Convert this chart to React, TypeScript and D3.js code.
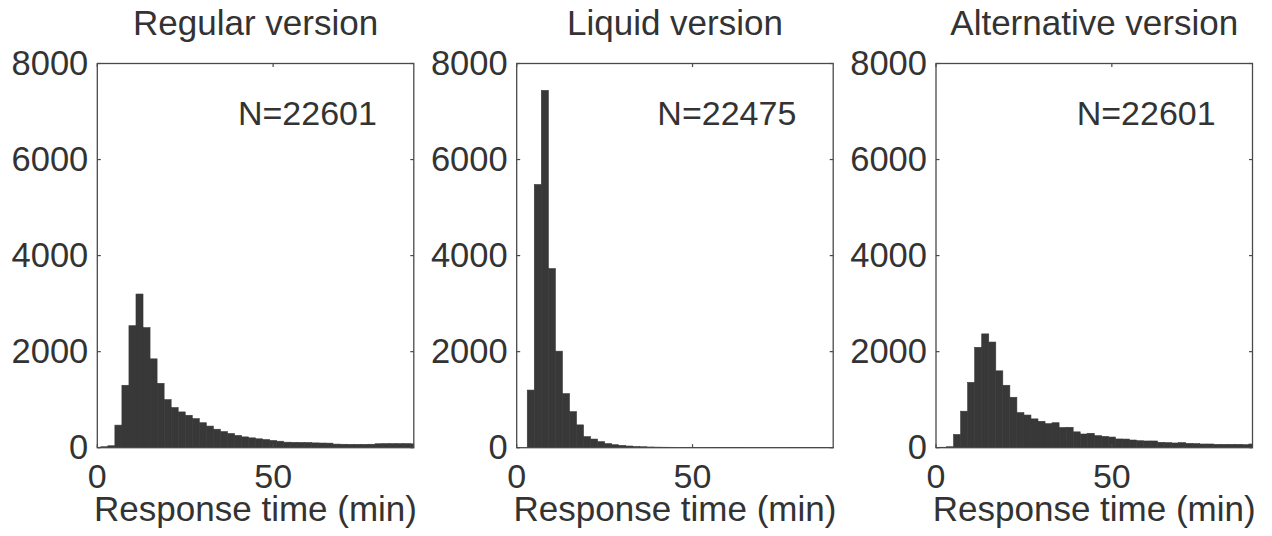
import React from 'react';
import * as d3 from 'd3';

// histogram bins: centers 0,2,...,90 (bin width 2 min)
const binCenters = d3.range(0, 92, 2);

const titles = ['Regular version', 'Liquid version', 'Alternative version'];
const sampleSizes = [22601, 22475, 22601];

const regularCounts = [
  10, 20, 40, 470, 1300, 2540, 3200, 2500, 1850, 1340,
  1000, 835, 745, 675, 605, 520, 450, 385, 335, 295,
  255, 225, 205, 185, 170, 150, 135, 115, 112, 110,
  108, 100, 97, 95, 75, 72, 70, 70, 70, 72,
  82, 85, 85, 85, 85, 80,
];
const liquidCounts = [
  0, 0, 1200, 5480, 7440, 3730, 2010, 1125, 750, 475,
  230, 180, 125, 85, 62, 48, 35, 25, 20, 15,
  12, 10, 9, 8, 7, 6, 5, 5, 4, 4,
  3, 3, 3, 2, 2, 2, 2, 2, 2, 1,
  1, 1, 1, 1, 1, 1,
];
const alternativeCounts = [
  5, 10, 20, 275, 760, 1360, 2090, 2370, 2200, 1600,
  1300, 1050, 730, 680, 600, 550, 500, 520, 420, 425,
  330, 285, 300, 250, 235, 222, 182, 180, 160, 145,
  140, 140, 112, 105, 98, 105, 90, 84, 77, 77,
  70, 70, 70, 70, 63, 77,
];
const allCounts = [regularCounts, liquidCounts, alternativeCounts];

const yTicks = [0, 2000, 4000, 6000, 8000];
const xTicks = [0, 50];
const xLabel = 'Response time (min)';

const W = 1272;
const H = 536;
const panelLefts = [97.3, 516.7, 936];
const panelW = 316.5;
const top = 63.5;
const bottom = 447.7;

const textColor = '#333';
const axisColor = '#4a4a4a';
const barColor = '#383838';
const font = '"Liberation Sans", Arial, Helvetica, sans-serif';

function Panel({ idx }: { idx: number }) {
  const left = panelLefts[idx];
  const x = d3.scaleLinear().domain([0, 90]).range([left, left + panelW]);
  const y = d3.scaleLinear().domain([0, 8000]).range([bottom, top]);
  const counts = allCounts[idx];
  const tl = 3.5;

  return (
    <g>
      {binCenters.map((c, i) => {
        const x0 = x(Math.max(0, c - 1));
        const x1 = x(Math.min(90, c + 1));
        const h = bottom - y(counts[i]);
        if (h <= 0) return null;
        return (
          <rect key={i} x={x0} width={x1 - x0} y={y(counts[i])} height={h}
            fill={barColor} stroke={barColor} strokeWidth={0.6} />
        );
      })}
      <rect x={left} y={top} width={panelW} height={bottom - top} fill="none" stroke={axisColor} strokeWidth={1.3} />
      {yTicks.map((t) => (
        <g key={t}>
          <line x1={left} x2={left + tl} y1={y(t)} y2={y(t)} stroke={axisColor} strokeWidth={1.2} />
          <line x1={left + panelW - tl} x2={left + panelW} y1={y(t)} y2={y(t)} stroke={axisColor} strokeWidth={1.2} />
          <text x={left - 9} y={y(t) - 1} textAnchor="end" dominantBaseline="central" fontSize={34.5} fill={textColor}>{t}</text>
        </g>
      ))}
      {xTicks.map((t) => (
        <g key={t}>
          <line x1={x(t)} x2={x(t)} y1={bottom} y2={bottom - tl} stroke={axisColor} strokeWidth={1.2} />
          <line x1={x(t)} x2={x(t)} y1={top} y2={top + tl} stroke={axisColor} strokeWidth={1.2} />
          <text x={x(t)} y={488} textAnchor="middle" fontSize={34} fill={textColor}>{t}</text>
        </g>
      ))}
      <text x={x(45)} y={35} textAnchor="middle" fontSize={35} fill={textColor}>{titles[idx]}</text>
      <text x={x(40)} y={y(6720)} textAnchor="start" fontSize={34} fill={textColor}>{`N=${sampleSizes[idx]}`}</text>
      <text x={x(45)} y={521} textAnchor="middle" fontSize={35} fill={textColor}>{xLabel}</text>
    </g>
  );
}

export default function App() {
  return (
    <svg width={W} height={H} style={{ position: 'absolute', left: 0, top: 0, background: '#fff' }} fontFamily={font}>
      <rect width={W} height={H} fill="#fff" />
      {[0, 1, 2].map((i) => <Panel key={i} idx={i} />)}
    </svg>
  );
}
